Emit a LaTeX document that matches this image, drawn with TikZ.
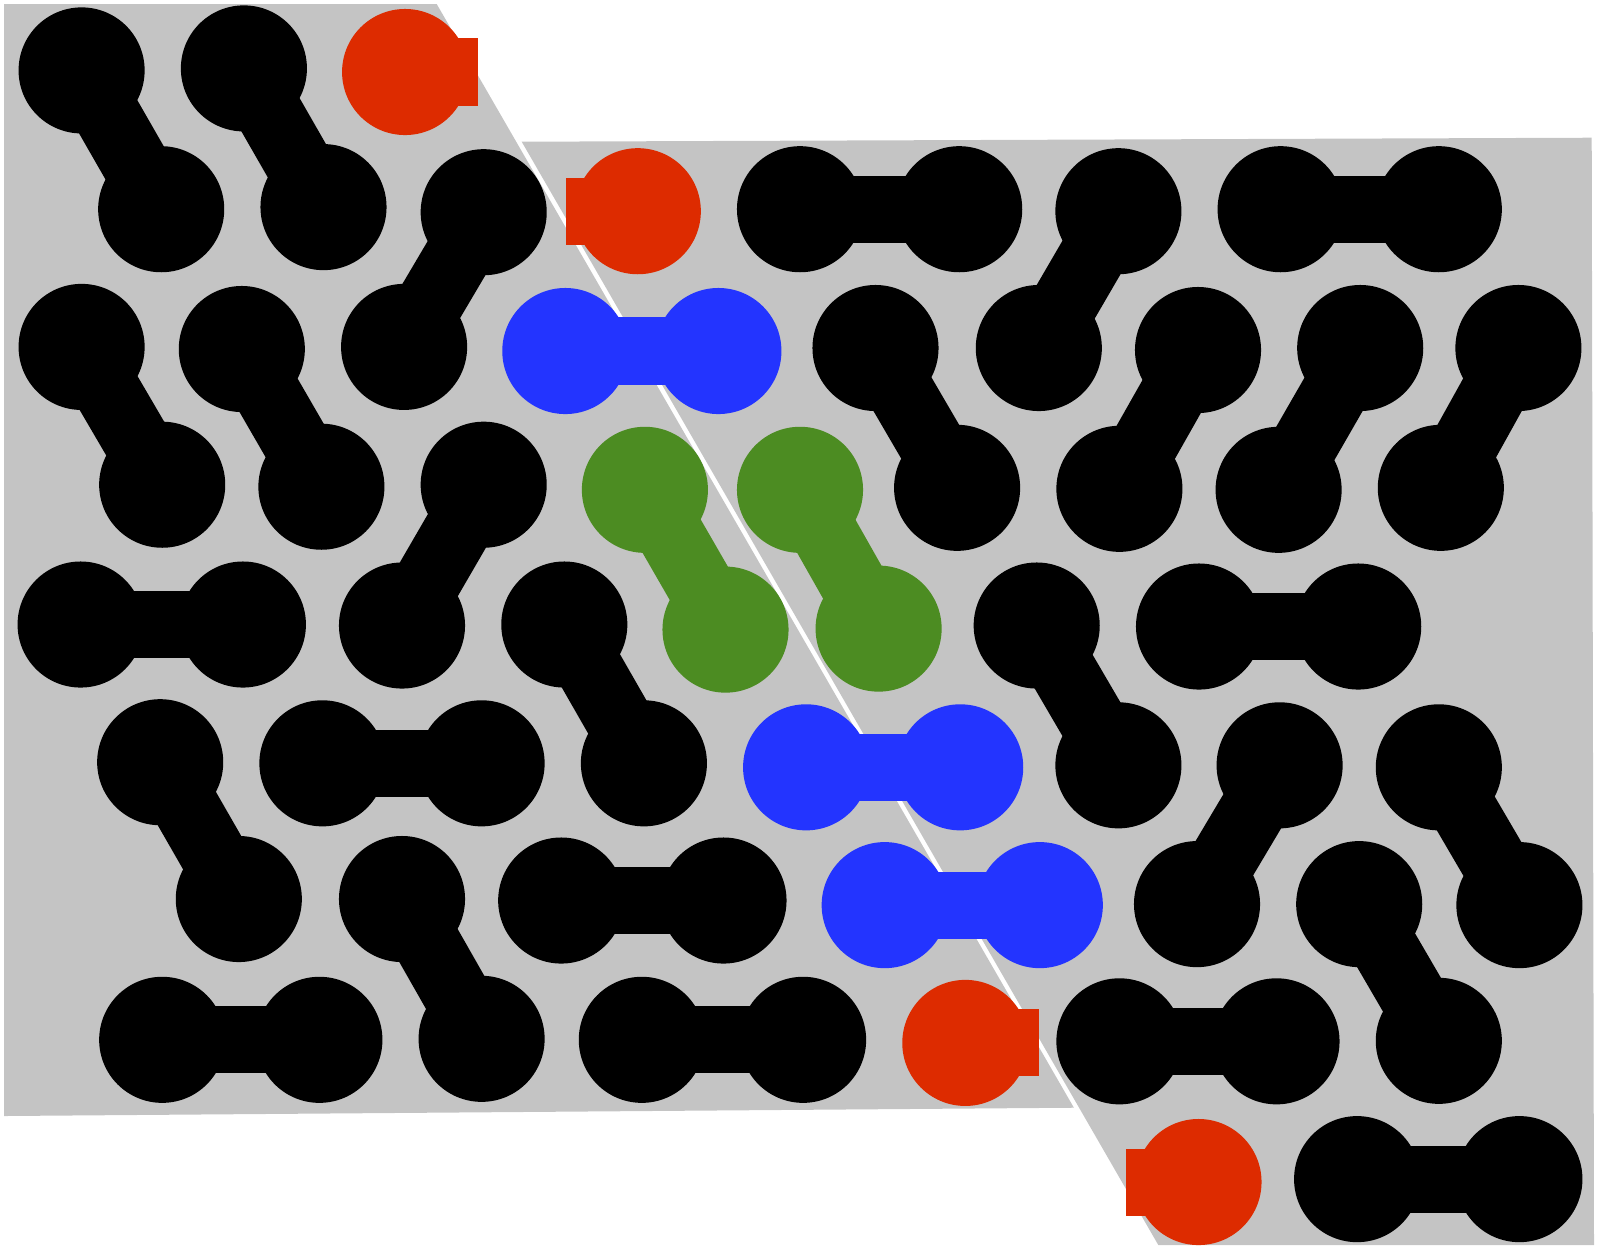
\documentclass[tikz,border=0pt]{standalone}
\usepackage{tikz}
\definecolor{cutgray}{RGB}{196,196,196}
\definecolor{halfred}{RGB}{221,43,0}
\definecolor{dimerblue}{RGB}{35,52,255}
\definecolor{dimergreen}{RGB}{76,140,34}
\begin{document}
\begin{tikzpicture}[x=0.01cm,y=-0.01cm, site/.style={circle,fill=black,inner sep=0pt,minimum size=1.26cm}, bond/.style={line width=0.67cm,draw=black}, blue site/.style={site,fill=dimerblue}, blue bond/.style={bond,draw=dimerblue}, green site/.style={site,fill=dimergreen}, green bond/.style={bond,draw=dimergreen}, red site/.style={site,fill=halfred}, red bond/.style={bond,draw=halfred}]
\useasboundingbox (0,0) rectangle (1600,1250);
% the two pieces of the strip
\fill[cutgray] (4,4) -- (436.7,4) -- (1073.9,1107.7) -- (4,1116) -- cycle;
\fill[cutgray] (521.7,141.7) -- (1591.7,137.7) -- (1594,1245) -- (1158.3,1245) -- cycle;
% black dimers
\node[site] (d1a) at (81.6,70.4) {}; \node[site] (d1b) at (161.2,209.2) {}; \draw[bond] (d1a.center) -- (d1b.center);
\node[site] (d2a) at (243.9,68.4) {}; \node[site] (d2b) at (323.5,207.1) {}; \draw[bond] (d2a.center) -- (d2b.center);
\node[site] (d3a) at (483.7,212.2) {}; \node[site] (d3b) at (404.1,346.9) {}; \draw[bond] (d3a.center) -- (d3b.center);
\node[site] (d4a) at (800,209.2) {}; \node[site] (d4b) at (959.2,209.2) {}; \draw[bond] (d4a.center) -- (d4b.center);
\node[site] (d5a) at (1118.4,211.2) {}; \node[site] (d5b) at (1038.8,348) {}; \draw[bond] (d5a.center) -- (d5b.center);
\node[site] (d6a) at (1280.6,209.2) {}; \node[site] (d6b) at (1438.8,209.2) {}; \draw[bond] (d6a.center) -- (d6b.center);
\node[site] (d7a) at (81.6,346.9) {}; \node[site] (d7b) at (162.2,484.7) {}; \draw[bond] (d7a.center) -- (d7b.center);
\node[site] (d8a) at (241.8,349) {}; \node[site] (d8b) at (321.4,486.7) {}; \draw[bond] (d8a.center) -- (d8b.center);
\node[site] (d9a) at (875.5,348) {}; \node[site] (d9b) at (957.1,487.8) {}; \draw[bond] (d9a.center) -- (d9b.center);
\node[site] (d10a) at (1198,350) {}; \node[site] (d10b) at (1119.4,488.8) {}; \draw[bond] (d10a.center) -- (d10b.center);
\node[site] (d11a) at (1360.2,348) {}; \node[site] (d11b) at (1278.6,489.8) {}; \draw[bond] (d11a.center) -- (d11b.center);
\node[site] (d12a) at (1518.4,348) {}; \node[site] (d12b) at (1440.8,487.8) {}; \draw[bond] (d12a.center) -- (d12b.center);
\node[site] (d13a) at (483.7,484.7) {}; \node[site] (d13b) at (402,625.5) {}; \draw[bond] (d13a.center) -- (d13b.center);
\node[site] (d14a) at (80.6,624.5) {}; \node[site] (d14b) at (242.9,624.5) {}; \draw[bond] (d14a.center) -- (d14b.center);
\node[site] (d15a) at (564.3,624.5) {}; \node[site] (d15b) at (643.9,763.3) {}; \draw[bond] (d15a.center) -- (d15b.center);
\node[site] (d16a) at (1036.7,625.5) {}; \node[site] (d16b) at (1118.4,765.3) {}; \draw[bond] (d16a.center) -- (d16b.center);
\node[site] (d17a) at (1199,626.5) {}; \node[site] (d17b) at (1358.2,626.5) {}; \draw[bond] (d17a.center) -- (d17b.center);
\node[site] (d18a) at (160.2,762.2) {}; \node[site] (d18b) at (238.8,899) {}; \draw[bond] (d18a.center) -- (d18b.center);
\node[site] (d19a) at (322.4,763.3) {}; \node[site] (d19b) at (481.6,763.3) {}; \draw[bond] (d19a.center) -- (d19b.center);
\node[site] (d20a) at (1279.6,765.3) {}; \node[site] (d20b) at (1197,904.1) {}; \draw[bond] (d20a.center) -- (d20b.center);
\node[site] (d21a) at (1438.8,767.3) {}; \node[site] (d21b) at (1519.4,905.1) {}; \draw[bond] (d21a.center) -- (d21b.center);
\node[site] (d22a) at (402,899) {}; \node[site] (d22b) at (481.6,1038.8) {}; \draw[bond] (d22a.center) -- (d22b.center);
\node[site] (d23a) at (561.2,900.5) {}; \node[site] (d23b) at (723.5,900.5) {}; \draw[bond] (d23a.center) -- (d23b.center);
\node[site] (d24a) at (1359.2,904.1) {}; \node[site] (d24b) at (1438.8,1040.8) {}; \draw[bond] (d24a.center) -- (d24b.center);
\node[site] (d25a) at (162.2,1039.8) {}; \node[site] (d25b) at (319.4,1039.8) {}; \draw[bond] (d25a.center) -- (d25b.center);
\node[site] (d26a) at (641.8,1039.8) {}; \node[site] (d26b) at (803.1,1039.8) {}; \draw[bond] (d26a.center) -- (d26b.center);
\node[site] (d27a) at (1119.4,1041.3) {}; \node[site] (d27b) at (1276.5,1041.3) {}; \draw[bond] (d27a.center) -- (d27b.center);
\node[site] (d28a) at (1357.1,1179.1) {}; \node[site] (d28b) at (1519.4,1179.1) {}; \draw[bond] (d28a.center) -- (d28b.center);
% blue dimers
\node[blue site] (b1a) at (565.3,351) {}; \node[blue site] (b1b) at (718.4,351) {}; \draw[blue bond] (b1a.center) -- (b1b.center);
\node[blue site] (b2a) at (806.1,767.3) {}; \node[blue site] (b2b) at (960.2,767.3) {}; \draw[blue bond] (b2a.center) -- (b2b.center);
\node[blue site] (b3a) at (884.7,905.1) {}; \node[blue site] (b3b) at (1039.8,905.1) {}; \draw[blue bond] (b3a.center) -- (b3b.center);
% green dimers
\node[green site] (g1a) at (644.9,489.8) {}; \node[green site] (g1b) at (725.5,629.6) {}; \draw[green bond] (g1a.center) -- (g1b.center);
\node[green site] (g2a) at (800,489.8) {}; \node[green site] (g2b) at (878.6,628.6) {}; \draw[green bond] (g2a.center) -- (g2b.center);
% red half dimers at the cut
\node[red site] (r1) at (405.1,72) {}; \coordinate (r1e) at (477.5,72); \draw[red bond] (r1.center) -- (r1e);
\node[red site] (r2) at (637.8,211.2) {}; \coordinate (r2e) at (566.3,211.2); \draw[red bond] (r2.center) -- (r2e);
\node[red site] (r3) at (965.3,1042.9) {}; \coordinate (r3e) at (1038.8,1042.9); \draw[red bond] (r3.center) -- (r3e);
\node[red site] (r4) at (1198.5,1182) {}; \coordinate (r4e) at (1126.2,1182); \draw[red bond] (r4.center) -- (r4e);
\end{tikzpicture}
\end{document}
